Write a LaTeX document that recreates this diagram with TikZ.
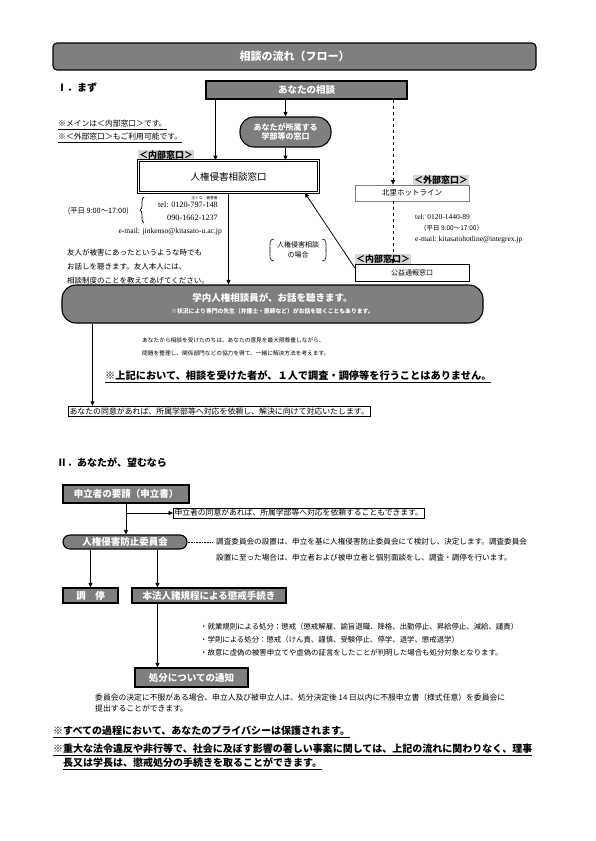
\documentclass[tikz,border=0pt]{standalone}
\usepackage{fontspec}
\setmainfont{Noto Sans CJK JP}
\newfontfamily\latin{Liberation Serif}
\usetikzlibrary{arrows.meta,decorations.pathreplacing}
\definecolor{flowgray}{HTML}{7F7F7F}
\definecolor{tabgray}{HTML}{D6D6D6}
\begin{document}
\begin{tikzpicture}[x=1pt,y=-1pt,
  arr/.style={-{Triangle[length=4.5pt,width=4pt]},line width=0.8pt},
  darkbox/.style={draw,line width=1.1pt,fill=flowgray,text=white,inner sep=0pt,font=\bfseries\fontsize{9.5}{11}\selectfont},
  tab/.style={fill=tabgray,inner sep=0.8pt,font=\bfseries\fontsize{9}{10}\selectfont},
  plainbox/.style={draw,line width=0.6pt,inner sep=1.2pt},
  txt/.style={anchor=west,inner sep=0pt,align=left}]
\useasboundingbox (0,0) rectangle (595,841);
\node[darkbox,rounded corners=4pt,minimum width=483,minimum height=27,font=\bfseries\fontsize{11}{13}\selectfont] (title) at (294.5,56.5) {相談の流れ（フロー）};
% I. first step
\node[txt,font=\bfseries\fontsize{10}{12}\selectfont] (secI) at (57,88) {Ⅰ．まず};
\node[darkbox,minimum width=201,minimum height=18] (consult) at (306.5,90) {あなたの相談};
\node[darkbox,rounded corners=14pt,minimum width=91,minimum height=30,align=center,font=\bfseries\fontsize{8}{9.5}\selectfont] (faculty) at (285.5,132) {あなたが所属する\\学部等の窓口};
\node[txt,font=\fontsize{7.8}{9}\selectfont] (note1) at (58,125) {\underline{※メインは＜内部窓口＞です。}};
\node[txt,font=\fontsize{7.8}{9}\selectfont] (note2) at (58,138) {\underline{※＜外部窓口＞もご利用可能です。}};
\node[tab,anchor=south west] (inlabel) at (138,160) {＜内部窓口＞};
\node[draw,double,double distance=1.3pt,line width=0.7pt,minimum width=180,minimum height=32,font=\fontsize{9.5}{11}\selectfont] (desk) at (228.5,176.5) {人権侵害相談窓口};
\node[inner sep=0pt,font=\fontsize{3.8}{4}\selectfont] (ruby1) at (197,198) {泣くな};
\node[inner sep=0pt,font=\fontsize{3.8}{4}\selectfont] (ruby2) at (212,198) {被害者};
\node[anchor=east,inner sep=0pt,font=\latin\fontsize{8.2}{9}\selectfont] (tel) at (218,205) {tel: 0120-797-148};
\node[anchor=east,inner sep=0pt,font=\latin\fontsize{8.2}{9}\selectfont] (tel2) at (218,218) {090-1662-1237};
\node[anchor=east,inner sep=0pt,font=\latin\fontsize{7.6}{9}\selectfont] (mail) at (222,232) {e-mail: jinkenso@kitasato-u.ac.jp};
\node[anchor=east,inner sep=0pt,font=\fontsize{7.3}{8}\selectfont] (hours) at (129,211) {(平日 9:00～17:00)};
\draw[decorate,decoration={brace,amplitude=4pt},line width=0.7pt] (144,223) -- (144,197);
\node[tab,anchor=south east] (outlabel) at (469,185) {＜外部窓口＞};
\node[draw=gray,line width=0.6pt,minimum width=114,minimum height=16,font=\fontsize{7.5}{9}\selectfont] (hotline) at (412,193) {北里ホットライン};
\node[txt,font=\latin\fontsize{7.5}{9}\selectfont] (htel) at (415,217) {tel: 0120-1440-89};
\node[txt,font=\fontsize{6.5}{8}\selectfont] (hhours) at (420,228) {（平日 9:00～17:00）};
\node[txt,font=\latin\fontsize{7.5}{9}\selectfont] (hmail) at (415,240) {e-mail: kitasatohotline@integrex.jp};
\node[tab,anchor=south west] (pblabel) at (355,264) {＜内部窓口＞};
\node[draw,line width=0.7pt,minimum width=114,minimum height=17,font=\fontsize{7}{8}\selectfont] (whistle) at (412,272.5) {公益通報窓口};
\node[align=center,inner sep=0pt,font=\fontsize{7}{10.5}\selectfont] (caselbl) at (298,250) {人権侵害相談\\の場合};
\draw[line width=0.6pt] (274,239) .. controls (269,239) and (270,244) .. (270,250) .. controls (270,256) and (269,261) .. (274,261);
\draw[line width=0.6pt] (322,239) .. controls (327,239) and (326,244) .. (326,250) .. controls (326,256) and (327,261) .. (322,261);
\node[txt,font=\fontsize{7.5}{14}\selectfont] (friend) at (67,267) {友人が被害にあったというような時でも\\お話しを聴きます。友人本人には、\\相談制度のことを教えてあげてください。};
\node[darkbox,rounded corners=14pt,minimum width=421,minimum height=38,align=center] (counsel) at (272.5,304) {学内人権相談員が、お話を聴きます。\\[1pt]{\fontsize{5.8}{7}\selectfont ※状況により専門の先生（弁護士・医師など）がお話を聴くこともあります。}};
\node[txt,font=\fontsize{5.7}{13}\selectfont] (advice) at (142,346.5) {あなたから相談を受けたのちは、あなたの意見を最大限尊重しながら、\\問題を整理し、関係部門などの協力を得て、一緒に解決方法を考えます。};
\node[txt,font=\bfseries\fontsize{10.2}{12}\selectfont] (nosolo) at (105,377) {\underline{※上記において、相談を受けた者が、１人で調査・調停等を行うことはありません。}};
\node[plainbox,anchor=west,font=\fontsize{7.9}{9}\selectfont] (request) at (68,411) {あなたの同意があれば、所属学部等へ対応を依頼し、解決に向けて対応いたします。};
\draw[arr] ([xshift=10pt]consult.south west) -- ([xshift=10pt]consult.south west |- desk.north);
\draw[arr] (faculty.north |- consult.south) -- (faculty.north);
\draw[arr] (faculty.south) -- (faculty.south |- desk.north);
\draw[arr,dashed] ([xshift=-19pt]hotline.north |- consult.south) -- ([xshift=-19pt]hotline.north);
\draw[arr,dashed] ([xshift=-19pt]hotline.south) -- ([xshift=-19pt]whistle.north);
\draw[arr] ([yshift=-4pt]whistle.north west) -- ([xshift=-14pt]desk.south east);
\draw[arr] (desk.south) -- (desk.south |- counsel.north);
\draw[arr] ([xshift=31pt]counsel.south west) -- ([xshift=31pt]counsel.south west |- request.north);
% II. if you wish
\node[txt,font=\bfseries\fontsize{10}{12}\selectfont] (secII) at (57,463) {Ⅱ．あなたが、望むなら};
\node[darkbox,minimum width=126,minimum height=18] (petition) at (126,494) {申立者の要請（申立書）};
\node[plainbox,anchor=west,font=\fontsize{7.8}{9}\selectfont] (agree) at (173,513) {申立者の同意があれば、所属学部等へ対応を依頼することもできます。};
\node[darkbox,rounded corners=7pt,minimum width=124,minimum height=14] (committee) at (125,542) {人権侵害防止委員会};
\node[txt,font=\fontsize{7.6}{16}\selectfont] (cnote) at (216,550) {調査委員会の設置は、申立を基に人権侵害防止委員会にて検討し、決定します。調査委員会\\設置に至った場合は、申立者および被申立者と個別面談をし、調査・調停を行います。};
\node[darkbox,minimum width=55,minimum height=15] (mediation) at (90.5,595.5) {調\quad 停};
\node[darkbox,minimum width=154,minimum height=15] (discipline) at (209,595.5) {本法人諸規程による懲戒手続き};
\node[txt,font=\fontsize{7.4}{13}\selectfont] (penalty) at (200,640) {・就業規則による処分：懲戒（懲戒解雇、諭旨退職、降格、出勤停止、昇給停止、減給、譴責）\\・学則による処分：懲戒（けん責、謹慎、受験停止、停学、退学、懲戒退学）\\・故意に虚偽の被害申立てや虚偽の証言をしたことが判明した場合も処分対象となります。};
\node[darkbox,minimum width=113,minimum height=19] (notice) at (191.5,677.5) {処分についての通知};
\node[txt,font=\fontsize{7.8}{11}\selectfont] (appeal) at (95,702.5) {委員会の決定に不服がある場合、申立人及び被申立人は、処分決定後 14 日以内に不服申立書（様式任意）を委員会に\\提出することができます。};
\draw[arr] (petition.south) -- (petition.south |- committee.north);
\draw[arr] (petition.south |- agree.west) -- (agree.west);
\draw[densely dotted,line width=0.6pt] (committee.east) -- ([xshift=-4pt]cnote.west |- committee.east);
\draw[arr] (mediation.north |- committee.south) -- (mediation.north);
\draw[arr] ([xshift=26pt]discipline.north west |- committee.south) -- ([xshift=26pt]discipline.north west);
\draw[arr] ([xshift=26pt]discipline.south west) -- ([xshift=26pt]discipline.south west |- notice.north);
% closing notes
\node[txt,font=\bfseries\fontsize{10}{12}\selectfont] (privacy) at (53,732) {\underline{※すべての過程において、あなたのプライバシーは保護されます。}};
\node[txt,font=\bfseries\fontsize{10}{12}\selectfont] (serious) at (53,750) {\underline{※重大な法令違反や非行等で、社会に及ぼす影響の著しい事案に関しては、上記の流れに関わりなく、理事}};
\node[txt,font=\bfseries\fontsize{10}{12}\selectfont] (serious2) at (63,764) {\underline{長又は学長は、懲戒処分の手続きを取ることができます。}};
\end{tikzpicture}
\end{document}
